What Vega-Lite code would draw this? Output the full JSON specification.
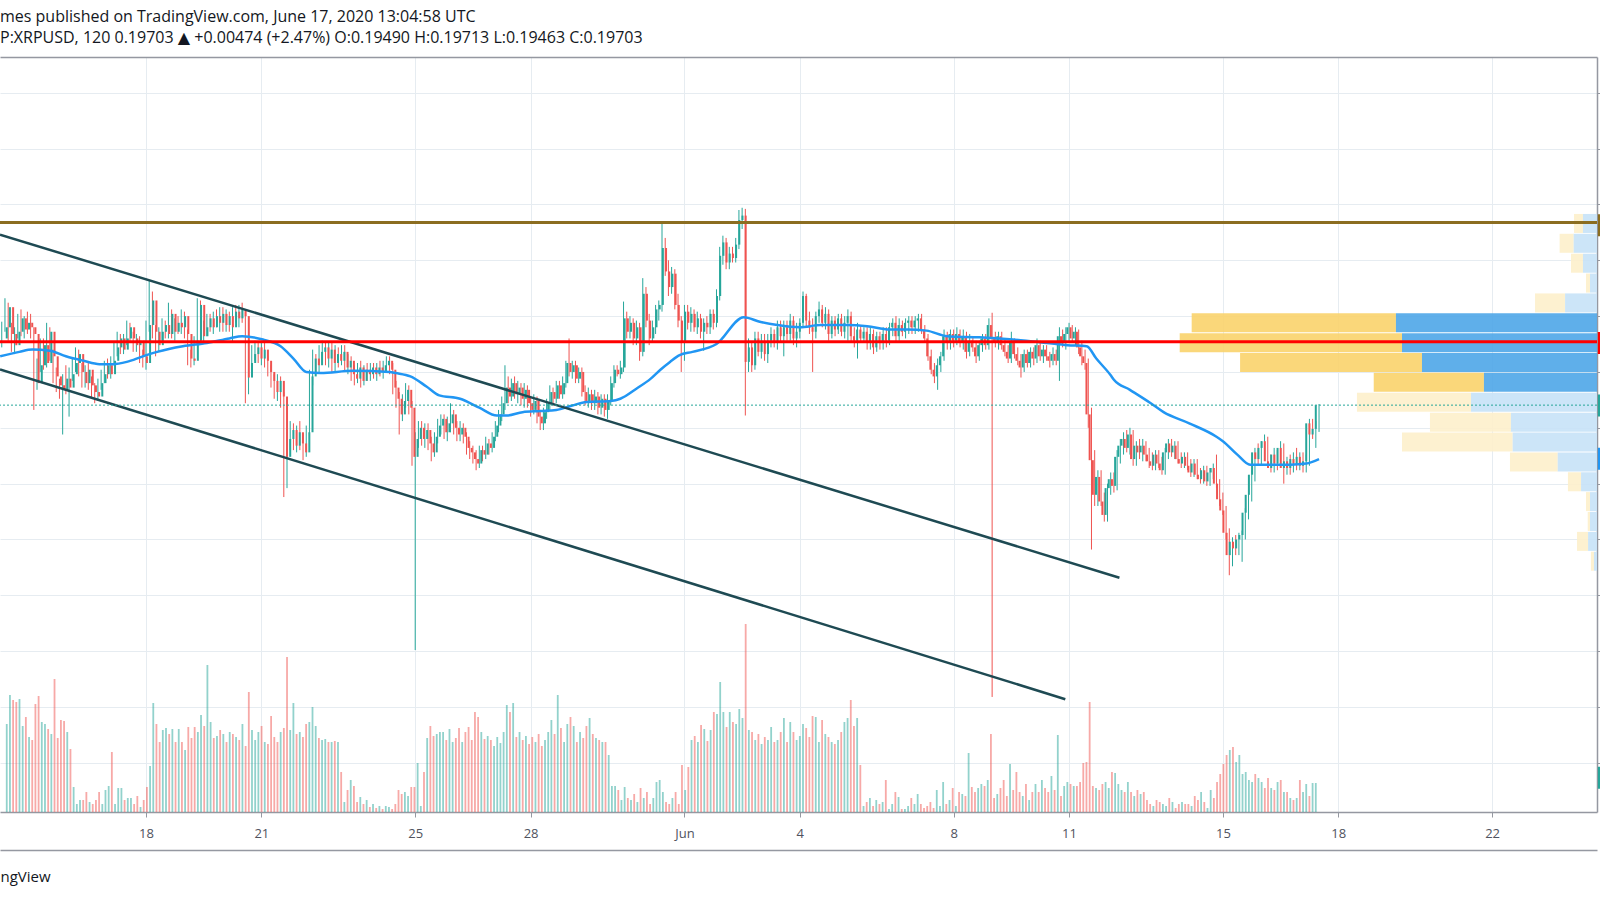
{
"$schema":"https://vega.github.io/schema/vega-lite/v6.json",
"width":1597,"height":755,
"autosize":{"type":"none"},
"padding":{"left":0,"top":57,"right":3,"bottom":88},
"background":"#ffffff",
"view":{"stroke":null},
"title":{"text":"mes published on TradingView.com, June 17, 2020 13:04:58 UTC","subtitle":"P:XRPUSD, 120  0.19703 ▲ +0.00474 (+2.47%)  O:0.19490  H:0.19713  L:0.19463  C:0.19703","anchor":"start","frame":"group","offset":11,"font":"Open Sans, DejaVu Sans","fontSize":16,"fontWeight":"normal","color":"#131722","subtitleFont":"Open Sans, DejaVu Sans","subtitleFontSize":16,"subtitleColor":"#131722","subtitlePadding":5},
"datasets":{
"candles":[
{"t":"2020-05-14T06:00Z","o":0.2030,"h":0.2045,"l":0.2022,"c":0.2040,"v":88},
{"t":"2020-05-14T08:00Z","o":0.2040,"h":0.2066,"l":0.2036,"c":0.2058,"v":117},
{"t":"2020-05-14T10:00Z","o":0.2058,"h":0.2062,"l":0.2028,"c":0.2034,"v":112},
{"t":"2020-05-14T12:00Z","o":0.2034,"h":0.2044,"l":0.2018,"c":0.2024,"v":110},
{"t":"2020-05-14T14:00Z","o":0.2024,"h":0.2040,"l":0.2016,"c":0.2036,"v":113},
{"t":"2020-05-14T16:00Z","o":0.2036,"h":0.2052,"l":0.2030,"c":0.2048,"v":86},
{"t":"2020-05-14T18:00Z","o":0.2048,"h":0.2056,"l":0.2032,"c":0.2038,"v":95},
{"t":"2020-05-14T20:00Z","o":0.2038,"h":0.2050,"l":0.2030,"c":0.2044,"v":75},
{"t":"2020-05-14T22:00Z","o":0.2044,"h":0.2054,"l":0.2034,"c":0.2040,"v":72},
{"t":"2020-05-15T00:00Z","o":0.2040,"h":0.2052,"l":0.2030,"c":0.2034,"v":108},
{"t":"2020-05-15T02:00Z","o":0.2034,"h":0.2040,"l":0.1966,"c":0.1990,"v":116},
{"t":"2020-05-15T04:00Z","o":0.1990,"h":0.2012,"l":0.1984,"c":0.2006,"v":90},
{"t":"2020-05-15T06:00Z","o":0.2006,"h":0.2030,"l":0.2000,"c":0.2024,"v":88},
{"t":"2020-05-15T08:00Z","o":0.2024,"h":0.2030,"l":0.2002,"c":0.2008,"v":83},
{"t":"2020-05-15T10:00Z","o":0.2008,"h":0.2044,"l":0.2004,"c":0.2036,"v":78},
{"t":"2020-05-15T12:00Z","o":0.2036,"h":0.2040,"l":0.2010,"c":0.2014,"v":133},
{"t":"2020-05-15T14:00Z","o":0.2014,"h":0.2020,"l":0.1990,"c":0.1996,"v":74},
{"t":"2020-05-15T16:00Z","o":0.1996,"h":0.2004,"l":0.1982,"c":0.1988,"v":92},
{"t":"2020-05-15T18:00Z","o":0.1988,"h":0.1994,"l":0.1976,"c":0.1984,"v":91},
{"t":"2020-05-15T20:00Z","o":0.1984,"h":0.1998,"l":0.1944,"c":0.1994,"v":80},
{"t":"2020-05-15T22:00Z","o":0.1994,"h":0.2006,"l":0.1980,"c":0.1986,"v":63},
{"t":"2020-05-16T00:00Z","o":0.1986,"h":0.2004,"l":0.1960,"c":0.1998,"v":25},
{"t":"2020-05-16T02:00Z","o":0.1998,"h":0.2012,"l":0.1992,"c":0.2008,"v":8},
{"t":"2020-05-16T04:00Z","o":0.2008,"h":0.2022,"l":0.2000,"c":0.2016,"v":12},
{"t":"2020-05-16T06:00Z","o":0.2016,"h":0.2020,"l":0.1996,"c":0.2000,"v":12},
{"t":"2020-05-16T08:00Z","o":0.2000,"h":0.2008,"l":0.1986,"c":0.1990,"v":20},
{"t":"2020-05-16T10:00Z","o":0.1990,"h":0.2006,"l":0.1986,"c":0.2002,"v":10},
{"t":"2020-05-16T12:00Z","o":0.2002,"h":0.2008,"l":0.1984,"c":0.1988,"v":8},
{"t":"2020-05-16T14:00Z","o":0.1988,"h":0.1996,"l":0.1976,"c":0.1982,"v":12},
{"t":"2020-05-16T16:00Z","o":0.1982,"h":0.1990,"l":0.1972,"c":0.1978,"v":20},
{"t":"2020-05-16T18:00Z","o":0.1978,"h":0.1994,"l":0.1974,"c":0.1990,"v":8},
{"t":"2020-05-16T20:00Z","o":0.1990,"h":0.2002,"l":0.1984,"c":0.1998,"v":22},
{"t":"2020-05-16T22:00Z","o":0.1998,"h":0.2010,"l":0.1990,"c":0.2006,"v":26},
{"t":"2020-05-17T00:00Z","o":0.2006,"h":0.2012,"l":0.1994,"c":0.1998,"v":60},
{"t":"2020-05-17T02:00Z","o":0.1998,"h":0.2014,"l":0.1994,"c":0.2010,"v":8},
{"t":"2020-05-17T04:00Z","o":0.2010,"h":0.2026,"l":0.2006,"c":0.2022,"v":24},
{"t":"2020-05-17T06:00Z","o":0.2022,"h":0.2036,"l":0.2014,"c":0.2030,"v":24},
{"t":"2020-05-17T08:00Z","o":0.2030,"h":0.2034,"l":0.2016,"c":0.2020,"v":12},
{"t":"2020-05-17T10:00Z","o":0.2020,"h":0.2034,"l":0.2016,"c":0.2030,"v":14},
{"t":"2020-05-17T12:00Z","o":0.2030,"h":0.2046,"l":0.2024,"c":0.2040,"v":14},
{"t":"2020-05-17T14:00Z","o":0.2040,"h":0.2044,"l":0.2026,"c":0.2030,"v":8},
{"t":"2020-05-17T16:00Z","o":0.2030,"h":0.2036,"l":0.2018,"c":0.2024,"v":16},
{"t":"2020-05-17T18:00Z","o":0.2024,"h":0.2034,"l":0.2018,"c":0.2028,"v":5},
{"t":"2020-05-17T20:00Z","o":0.2028,"h":0.2032,"l":0.2008,"c":0.2014,"v":12},
{"t":"2020-05-17T22:00Z","o":0.2014,"h":0.2020,"l":0.2004,"c":0.2008,"v":25},
{"t":"2020-05-18T00:00Z","o":0.2008,"h":0.2046,"l":0.2002,"c":0.2042,"v":46},
{"t":"2020-05-18T02:00Z","o":0.2042,"h":0.2082,"l":0.2036,"c":0.2064,"v":109},
{"t":"2020-05-18T04:00Z","o":0.2064,"h":0.2072,"l":0.2030,"c":0.2036,"v":88},
{"t":"2020-05-18T06:00Z","o":0.2036,"h":0.2042,"l":0.2014,"c":0.2024,"v":70},
{"t":"2020-05-18T08:00Z","o":0.2024,"h":0.2040,"l":0.2018,"c":0.2036,"v":82},
{"t":"2020-05-18T10:00Z","o":0.2036,"h":0.2048,"l":0.2028,"c":0.2042,"v":84},
{"t":"2020-05-18T12:00Z","o":0.2042,"h":0.2046,"l":0.2030,"c":0.2034,"v":78},
{"t":"2020-05-18T14:00Z","o":0.2034,"h":0.2062,"l":0.2030,"c":0.2052,"v":83},
{"t":"2020-05-18T16:00Z","o":0.2052,"h":0.2056,"l":0.2030,"c":0.2036,"v":70},
{"t":"2020-05-18T18:00Z","o":0.2036,"h":0.2048,"l":0.2028,"c":0.2044,"v":83},
{"t":"2020-05-18T20:00Z","o":0.2044,"h":0.2050,"l":0.2034,"c":0.2040,"v":70},
{"t":"2020-05-18T22:00Z","o":0.2040,"h":0.2056,"l":0.2034,"c":0.2050,"v":62},
{"t":"2020-05-19T00:00Z","o":0.2050,"h":0.2054,"l":0.2030,"c":0.2034,"v":85},
{"t":"2020-05-19T02:00Z","o":0.2034,"h":0.2038,"l":0.2006,"c":0.2012,"v":74},
{"t":"2020-05-19T04:00Z","o":0.2012,"h":0.2020,"l":0.2004,"c":0.2010,"v":85},
{"t":"2020-05-19T06:00Z","o":0.2010,"h":0.2032,"l":0.2006,"c":0.2028,"v":80},
{"t":"2020-05-19T08:00Z","o":0.2028,"h":0.2066,"l":0.2024,"c":0.2060,"v":97},
{"t":"2020-05-19T10:00Z","o":0.2060,"h":0.2064,"l":0.2026,"c":0.2032,"v":86},
{"t":"2020-05-19T12:00Z","o":0.2032,"h":0.2046,"l":0.2026,"c":0.2040,"v":147},
{"t":"2020-05-19T14:00Z","o":0.2040,"h":0.2052,"l":0.2032,"c":0.2048,"v":90},
{"t":"2020-05-19T16:00Z","o":0.2048,"h":0.2052,"l":0.2036,"c":0.2040,"v":74},
{"t":"2020-05-19T18:00Z","o":0.2040,"h":0.2054,"l":0.2034,"c":0.2050,"v":76},
{"t":"2020-05-19T20:00Z","o":0.2050,"h":0.2056,"l":0.2040,"c":0.2044,"v":82},
{"t":"2020-05-19T22:00Z","o":0.2044,"h":0.2058,"l":0.2036,"c":0.2052,"v":78},
{"t":"2020-05-20T00:00Z","o":0.2052,"h":0.2058,"l":0.2036,"c":0.2042,"v":70},
{"t":"2020-05-20T02:00Z","o":0.2042,"h":0.2056,"l":0.2036,"c":0.2050,"v":80},
{"t":"2020-05-20T04:00Z","o":0.2050,"h":0.2054,"l":0.2036,"c":0.2040,"v":78},
{"t":"2020-05-20T06:00Z","o":0.2040,"h":0.2058,"l":0.2026,"c":0.2054,"v":75},
{"t":"2020-05-20T08:00Z","o":0.2054,"h":0.2060,"l":0.2044,"c":0.2048,"v":72},
{"t":"2020-05-20T10:00Z","o":0.2048,"h":0.2060,"l":0.2040,"c":0.2056,"v":88},
{"t":"2020-05-20T12:00Z","o":0.2056,"h":0.2062,"l":0.2044,"c":0.2050,"v":66},
{"t":"2020-05-20T14:00Z","o":0.2050,"h":0.2054,"l":0.1972,"c":0.1995,"v":120},
{"t":"2020-05-20T16:00Z","o":0.1995,"h":0.2014,"l":0.1980,"c":0.2008,"v":82},
{"t":"2020-05-20T18:00Z","o":0.2008,"h":0.2024,"l":0.2002,"c":0.2016,"v":72},
{"t":"2020-05-20T20:00Z","o":0.2016,"h":0.2028,"l":0.2010,"c":0.2022,"v":80},
{"t":"2020-05-20T22:00Z","o":0.2022,"h":0.2026,"l":0.2008,"c":0.2012,"v":86},
{"t":"2020-05-21T00:00Z","o":0.2012,"h":0.2026,"l":0.2006,"c":0.2020,"v":70},
{"t":"2020-05-21T02:00Z","o":0.2020,"h":0.2026,"l":0.2004,"c":0.2010,"v":68},
{"t":"2020-05-21T04:00Z","o":0.2010,"h":0.2014,"l":0.1996,"c":0.2000,"v":96},
{"t":"2020-05-21T06:00Z","o":0.2000,"h":0.2006,"l":0.1986,"c":0.1992,"v":75},
{"t":"2020-05-21T08:00Z","o":0.1992,"h":0.1998,"l":0.1976,"c":0.1982,"v":70},
{"t":"2020-05-21T10:00Z","o":0.1982,"h":0.1998,"l":0.1974,"c":0.1992,"v":80},
{"t":"2020-05-21T12:00Z","o":0.1992,"h":0.1996,"l":0.1968,"c":0.1978,"v":84},
{"t":"2020-05-21T14:00Z","o":0.1978,"h":0.1982,"l":0.1888,"c":0.1924,"v":155},
{"t":"2020-05-21T16:00Z","o":0.1924,"h":0.1946,"l":0.1896,"c":0.1940,"v":82},
{"t":"2020-05-21T18:00Z","o":0.1940,"h":0.1956,"l":0.1930,"c":0.1948,"v":109},
{"t":"2020-05-21T20:00Z","o":0.1948,"h":0.1954,"l":0.1930,"c":0.1934,"v":78},
{"t":"2020-05-21T22:00Z","o":0.1934,"h":0.1952,"l":0.1928,"c":0.1946,"v":80},
{"t":"2020-05-22T00:00Z","o":0.1946,"h":0.1956,"l":0.1930,"c":0.1936,"v":75},
{"t":"2020-05-22T02:00Z","o":0.1936,"h":0.1944,"l":0.1921,"c":0.1928,"v":88},
{"t":"2020-05-22T04:00Z","o":0.1928,"h":0.1952,"l":0.1924,"c":0.1946,"v":90},
{"t":"2020-05-22T06:00Z","o":0.1946,"h":0.2002,"l":0.1940,"c":0.1996,"v":105},
{"t":"2020-05-22T08:00Z","o":0.1996,"h":0.2020,"l":0.1988,"c":0.2012,"v":86},
{"t":"2020-05-22T10:00Z","o":0.2012,"h":0.2016,"l":0.2000,"c":0.2006,"v":74},
{"t":"2020-05-22T12:00Z","o":0.2006,"h":0.2024,"l":0.2000,"c":0.2018,"v":72},
{"t":"2020-05-22T14:00Z","o":0.2018,"h":0.2028,"l":0.2008,"c":0.2022,"v":73},
{"t":"2020-05-22T16:00Z","o":0.2022,"h":0.2026,"l":0.2006,"c":0.2012,"v":70},
{"t":"2020-05-22T18:00Z","o":0.2012,"h":0.2026,"l":0.2004,"c":0.2020,"v":70},
{"t":"2020-05-22T20:00Z","o":0.2020,"h":0.2026,"l":0.2000,"c":0.2008,"v":71},
{"t":"2020-05-22T22:00Z","o":0.2008,"h":0.2024,"l":0.2000,"c":0.2016,"v":70},
{"t":"2020-05-23T00:00Z","o":0.2016,"h":0.2022,"l":0.2004,"c":0.2010,"v":40},
{"t":"2020-05-23T02:00Z","o":0.2010,"h":0.2024,"l":0.2006,"c":0.2018,"v":10},
{"t":"2020-05-23T04:00Z","o":0.2018,"h":0.2024,"l":0.2000,"c":0.2004,"v":22},
{"t":"2020-05-23T06:00Z","o":0.2004,"h":0.2016,"l":0.1998,"c":0.2010,"v":32},
{"t":"2020-05-23T08:00Z","o":0.2010,"h":0.2014,"l":0.1992,"c":0.1998,"v":26},
{"t":"2020-05-23T10:00Z","o":0.1998,"h":0.2006,"l":0.1988,"c":0.1994,"v":10},
{"t":"2020-05-23T12:00Z","o":0.1994,"h":0.2008,"l":0.1990,"c":0.2004,"v":15},
{"t":"2020-05-23T14:00Z","o":0.2004,"h":0.2010,"l":0.1986,"c":0.1992,"v":8},
{"t":"2020-05-23T16:00Z","o":0.1992,"h":0.2006,"l":0.1988,"c":0.2002,"v":12},
{"t":"2020-05-23T18:00Z","o":0.2002,"h":0.2008,"l":0.1992,"c":0.1998,"v":5},
{"t":"2020-05-23T20:00Z","o":0.1998,"h":0.2008,"l":0.1992,"c":0.2004,"v":8},
{"t":"2020-05-23T22:00Z","o":0.2004,"h":0.2008,"l":0.1994,"c":0.1998,"v":4},
{"t":"2020-05-24T00:00Z","o":0.1998,"h":0.2008,"l":0.1992,"c":0.2004,"v":6},
{"t":"2020-05-24T02:00Z","o":0.2004,"h":0.2010,"l":0.1996,"c":0.2000,"v":3},
{"t":"2020-05-24T04:00Z","o":0.2000,"h":0.2010,"l":0.1994,"c":0.2006,"v":6},
{"t":"2020-05-24T06:00Z","o":0.2006,"h":0.2014,"l":0.2000,"c":0.2010,"v":5},
{"t":"2020-05-24T08:00Z","o":0.2010,"h":0.2014,"l":0.1998,"c":0.2002,"v":3},
{"t":"2020-05-24T10:00Z","o":0.2002,"h":0.2008,"l":0.1980,"c":0.1986,"v":8},
{"t":"2020-05-24T12:00Z","o":0.1986,"h":0.1992,"l":0.1968,"c":0.1976,"v":22},
{"t":"2020-05-24T14:00Z","o":0.1976,"h":0.1982,"l":0.1944,"c":0.1962,"v":18},
{"t":"2020-05-24T16:00Z","o":0.1962,"h":0.1980,"l":0.1956,"c":0.1974,"v":20},
{"t":"2020-05-24T18:00Z","o":0.1974,"h":0.1990,"l":0.1968,"c":0.1984,"v":16},
{"t":"2020-05-24T20:00Z","o":0.1984,"h":0.1988,"l":0.1962,"c":0.1968,"v":25},
{"t":"2020-05-24T22:00Z","o":0.1968,"h":0.1974,"l":0.1916,"c":0.1924,"v":25},
{"t":"2020-05-25T00:00Z","o":0.1924,"h":0.1946,"l":0.1751,"c":0.1940,"v":49},
{"t":"2020-05-25T02:00Z","o":0.1940,"h":0.1956,"l":0.1932,"c":0.1950,"v":6},
{"t":"2020-05-25T04:00Z","o":0.1950,"h":0.1956,"l":0.1934,"c":0.1940,"v":40},
{"t":"2020-05-25T06:00Z","o":0.1940,"h":0.1954,"l":0.1932,"c":0.1948,"v":74},
{"t":"2020-05-25T08:00Z","o":0.1948,"h":0.1954,"l":0.1930,"c":0.1936,"v":86},
{"t":"2020-05-25T10:00Z","o":0.1936,"h":0.1942,"l":0.1920,"c":0.1928,"v":76},
{"t":"2020-05-25T12:00Z","o":0.1928,"h":0.1946,"l":0.1924,"c":0.1942,"v":78},
{"t":"2020-05-25T14:00Z","o":0.1942,"h":0.1958,"l":0.1936,"c":0.1952,"v":80},
{"t":"2020-05-25T16:00Z","o":0.1952,"h":0.1962,"l":0.1944,"c":0.1958,"v":80},
{"t":"2020-05-25T18:00Z","o":0.1958,"h":0.1962,"l":0.1940,"c":0.1946,"v":72},
{"t":"2020-05-25T20:00Z","o":0.1946,"h":0.1960,"l":0.1938,"c":0.1954,"v":83},
{"t":"2020-05-25T22:00Z","o":0.1954,"h":0.1972,"l":0.1946,"c":0.1962,"v":70},
{"t":"2020-05-26T00:00Z","o":0.1962,"h":0.1966,"l":0.1944,"c":0.1950,"v":74},
{"t":"2020-05-26T02:00Z","o":0.1950,"h":0.1956,"l":0.1938,"c":0.1944,"v":84},
{"t":"2020-05-26T04:00Z","o":0.1944,"h":0.1956,"l":0.1938,"c":0.1950,"v":70},
{"t":"2020-05-26T06:00Z","o":0.1950,"h":0.1954,"l":0.1936,"c":0.1942,"v":80},
{"t":"2020-05-26T08:00Z","o":0.1942,"h":0.1946,"l":0.1926,"c":0.1932,"v":85},
{"t":"2020-05-26T10:00Z","o":0.1932,"h":0.1938,"l":0.1922,"c":0.1928,"v":72},
{"t":"2020-05-26T12:00Z","o":0.1928,"h":0.1934,"l":0.1918,"c":0.1922,"v":100},
{"t":"2020-05-26T14:00Z","o":0.1922,"h":0.1930,"l":0.1912,"c":0.1918,"v":95},
{"t":"2020-05-26T16:00Z","o":0.1918,"h":0.1934,"l":0.1914,"c":0.1930,"v":80},
{"t":"2020-05-26T18:00Z","o":0.1930,"h":0.1934,"l":0.1920,"c":0.1926,"v":73},
{"t":"2020-05-26T20:00Z","o":0.1926,"h":0.1942,"l":0.1922,"c":0.1936,"v":76},
{"t":"2020-05-26T22:00Z","o":0.1936,"h":0.1940,"l":0.1926,"c":0.1932,"v":72},
{"t":"2020-05-27T00:00Z","o":0.1932,"h":0.1946,"l":0.1928,"c":0.1942,"v":66},
{"t":"2020-05-27T02:00Z","o":0.1942,"h":0.1956,"l":0.1938,"c":0.1952,"v":75},
{"t":"2020-05-27T04:00Z","o":0.1952,"h":0.1966,"l":0.1946,"c":0.1962,"v":69},
{"t":"2020-05-27T06:00Z","o":0.1962,"h":0.1978,"l":0.1956,"c":0.1972,"v":80},
{"t":"2020-05-27T08:00Z","o":0.1972,"h":0.2006,"l":0.1966,"c":0.1986,"v":107},
{"t":"2020-05-27T10:00Z","o":0.1986,"h":0.1996,"l":0.1972,"c":0.1978,"v":100},
{"t":"2020-05-27T12:00Z","o":0.1978,"h":0.1994,"l":0.1974,"c":0.1990,"v":109},
{"t":"2020-05-27T14:00Z","o":0.1990,"h":0.1996,"l":0.1976,"c":0.1980,"v":75},
{"t":"2020-05-27T16:00Z","o":0.1980,"h":0.1992,"l":0.1972,"c":0.1986,"v":80},
{"t":"2020-05-27T18:00Z","o":0.1986,"h":0.1990,"l":0.1970,"c":0.1976,"v":72},
{"t":"2020-05-27T20:00Z","o":0.1976,"h":0.1990,"l":0.1968,"c":0.1984,"v":76},
{"t":"2020-05-27T22:00Z","o":0.1984,"h":0.1988,"l":0.1968,"c":0.1972,"v":68},
{"t":"2020-05-28T00:00Z","o":0.1972,"h":0.1978,"l":0.1960,"c":0.1966,"v":75},
{"t":"2020-05-28T02:00Z","o":0.1966,"h":0.1980,"l":0.1962,"c":0.1974,"v":70},
{"t":"2020-05-28T04:00Z","o":0.1974,"h":0.1978,"l":0.1954,"c":0.1960,"v":78},
{"t":"2020-05-28T06:00Z","o":0.1960,"h":0.1966,"l":0.1948,"c":0.1954,"v":66},
{"t":"2020-05-28T08:00Z","o":0.1954,"h":0.1968,"l":0.1948,"c":0.1964,"v":72},
{"t":"2020-05-28T10:00Z","o":0.1964,"h":0.1976,"l":0.1958,"c":0.1972,"v":80},
{"t":"2020-05-28T12:00Z","o":0.1972,"h":0.1988,"l":0.1966,"c":0.1982,"v":92},
{"t":"2020-05-28T14:00Z","o":0.1982,"h":0.1986,"l":0.1970,"c":0.1976,"v":78},
{"t":"2020-05-28T16:00Z","o":0.1976,"h":0.1992,"l":0.1972,"c":0.1988,"v":117},
{"t":"2020-05-28T18:00Z","o":0.1988,"h":0.1992,"l":0.1976,"c":0.1980,"v":84},
{"t":"2020-05-28T20:00Z","o":0.1980,"h":0.1996,"l":0.1976,"c":0.1990,"v":70},
{"t":"2020-05-28T22:00Z","o":0.1990,"h":0.2010,"l":0.1986,"c":0.2008,"v":88},
{"t":"2020-05-29T00:00Z","o":0.2008,"h":0.2030,"l":0.1996,"c":0.2000,"v":95},
{"t":"2020-05-29T02:00Z","o":0.2000,"h":0.2010,"l":0.1994,"c":0.2006,"v":86},
{"t":"2020-05-29T04:00Z","o":0.2006,"h":0.2010,"l":0.1990,"c":0.1994,"v":70},
{"t":"2020-05-29T06:00Z","o":0.1994,"h":0.2004,"l":0.1990,"c":0.2000,"v":80},
{"t":"2020-05-29T08:00Z","o":0.2000,"h":0.2004,"l":0.1978,"c":0.1982,"v":74},
{"t":"2020-05-29T10:00Z","o":0.1982,"h":0.1988,"l":0.1970,"c":0.1974,"v":86},
{"t":"2020-05-29T12:00Z","o":0.1974,"h":0.1986,"l":0.1968,"c":0.1980,"v":94},
{"t":"2020-05-29T14:00Z","o":0.1980,"h":0.1984,"l":0.1966,"c":0.1972,"v":78},
{"t":"2020-05-29T16:00Z","o":0.1972,"h":0.1984,"l":0.1966,"c":0.1978,"v":74},
{"t":"2020-05-29T18:00Z","o":0.1978,"h":0.1982,"l":0.1962,"c":0.1968,"v":72},
{"t":"2020-05-29T20:00Z","o":0.1968,"h":0.1980,"l":0.1962,"c":0.1976,"v":70},
{"t":"2020-05-29T22:00Z","o":0.1976,"h":0.1980,"l":0.1960,"c":0.1966,"v":70},
{"t":"2020-05-30T00:00Z","o":0.1966,"h":0.1980,"l":0.1958,"c":0.1974,"v":57},
{"t":"2020-05-30T02:00Z","o":0.1974,"h":0.1996,"l":0.1970,"c":0.1990,"v":26},
{"t":"2020-05-30T04:00Z","o":0.1990,"h":0.2006,"l":0.1986,"c":0.2002,"v":26},
{"t":"2020-05-30T06:00Z","o":0.2002,"h":0.2006,"l":0.1996,"c":0.1998,"v":22},
{"t":"2020-05-30T08:00Z","o":0.1998,"h":0.2010,"l":0.1994,"c":0.2004,"v":12},
{"t":"2020-05-30T10:00Z","o":0.2004,"h":0.2063,"l":0.2000,"c":0.2048,"v":25},
{"t":"2020-05-30T12:00Z","o":0.2048,"h":0.2054,"l":0.2030,"c":0.2036,"v":14},
{"t":"2020-05-30T14:00Z","o":0.2036,"h":0.2050,"l":0.2030,"c":0.2044,"v":12},
{"t":"2020-05-30T16:00Z","o":0.2044,"h":0.2048,"l":0.2024,"c":0.2030,"v":18},
{"t":"2020-05-30T18:00Z","o":0.2030,"h":0.2046,"l":0.2024,"c":0.2040,"v":10},
{"t":"2020-05-30T20:00Z","o":0.2040,"h":0.2044,"l":0.2010,"c":0.2018,"v":24},
{"t":"2020-05-30T22:00Z","o":0.2018,"h":0.2084,"l":0.2014,"c":0.2070,"v":14},
{"t":"2020-05-31T00:00Z","o":0.2070,"h":0.2076,"l":0.2040,"c":0.2046,"v":20},
{"t":"2020-05-31T02:00Z","o":0.2046,"h":0.2052,"l":0.2024,"c":0.2030,"v":8},
{"t":"2020-05-31T04:00Z","o":0.2030,"h":0.2046,"l":0.2026,"c":0.2040,"v":14},
{"t":"2020-05-31T06:00Z","o":0.2040,"h":0.2060,"l":0.2034,"c":0.2056,"v":30},
{"t":"2020-05-31T08:00Z","o":0.2056,"h":0.2064,"l":0.2046,"c":0.2060,"v":32},
{"t":"2020-05-31T10:00Z","o":0.2060,"h":0.2133,"l":0.2054,"c":0.2111,"v":20},
{"t":"2020-05-31T12:00Z","o":0.2111,"h":0.2120,"l":0.2086,"c":0.2090,"v":10},
{"t":"2020-05-31T14:00Z","o":0.2090,"h":0.2100,"l":0.2068,"c":0.2076,"v":8},
{"t":"2020-05-31T16:00Z","o":0.2076,"h":0.2094,"l":0.2070,"c":0.2088,"v":14},
{"t":"2020-05-31T18:00Z","o":0.2088,"h":0.2092,"l":0.2056,"c":0.2060,"v":20},
{"t":"2020-05-31T20:00Z","o":0.2060,"h":0.2070,"l":0.2040,"c":0.2046,"v":8},
{"t":"2020-05-31T22:00Z","o":0.2046,"h":0.2050,"l":0.2000,"c":0.2026,"v":47},
{"t":"2020-06-01T00:00Z","o":0.2026,"h":0.2060,"l":0.2010,"c":0.2054,"v":22},
{"t":"2020-06-01T02:00Z","o":0.2054,"h":0.2060,"l":0.2038,"c":0.2044,"v":45},
{"t":"2020-06-01T04:00Z","o":0.2044,"h":0.2058,"l":0.2036,"c":0.2052,"v":72},
{"t":"2020-06-01T06:00Z","o":0.2052,"h":0.2056,"l":0.2036,"c":0.2040,"v":76},
{"t":"2020-06-01T08:00Z","o":0.2040,"h":0.2054,"l":0.2034,"c":0.2048,"v":70},
{"t":"2020-06-01T10:00Z","o":0.2048,"h":0.2052,"l":0.2030,"c":0.2036,"v":87},
{"t":"2020-06-01T12:00Z","o":0.2036,"h":0.2048,"l":0.2019,"c":0.2044,"v":83},
{"t":"2020-06-01T14:00Z","o":0.2044,"h":0.2050,"l":0.2034,"c":0.2040,"v":71},
{"t":"2020-06-01T16:00Z","o":0.2040,"h":0.2056,"l":0.2034,"c":0.2052,"v":82},
{"t":"2020-06-01T18:00Z","o":0.2052,"h":0.2056,"l":0.2038,"c":0.2044,"v":100},
{"t":"2020-06-01T20:00Z","o":0.2044,"h":0.2074,"l":0.2040,"c":0.2068,"v":98},
{"t":"2020-06-01T22:00Z","o":0.2068,"h":0.2112,"l":0.2064,"c":0.2104,"v":130},
{"t":"2020-06-02T00:00Z","o":0.2104,"h":0.2122,"l":0.2096,"c":0.2116,"v":100},
{"t":"2020-06-02T02:00Z","o":0.2116,"h":0.2120,"l":0.2092,"c":0.2098,"v":85},
{"t":"2020-06-02T04:00Z","o":0.2098,"h":0.2112,"l":0.2092,"c":0.2106,"v":100},
{"t":"2020-06-02T06:00Z","o":0.2106,"h":0.2112,"l":0.2098,"c":0.2102,"v":90},
{"t":"2020-06-02T08:00Z","o":0.2102,"h":0.2120,"l":0.2098,"c":0.2114,"v":88},
{"t":"2020-06-02T10:00Z","o":0.2114,"h":0.2145,"l":0.2110,"c":0.2136,"v":103},
{"t":"2020-06-02T12:00Z","o":0.2136,"h":0.2147,"l":0.2128,"c":0.2140,"v":94},
{"t":"2020-06-02T14:00Z","o":0.2140,"h":0.2146,"l":0.1961,"c":0.2009,"v":188},
{"t":"2020-06-02T16:00Z","o":0.2009,"h":0.2030,"l":0.2000,"c":0.2022,"v":82},
{"t":"2020-06-02T18:00Z","o":0.2022,"h":0.2026,"l":0.2000,"c":0.2006,"v":80},
{"t":"2020-06-02T20:00Z","o":0.2006,"h":0.2036,"l":0.2002,"c":0.2030,"v":72},
{"t":"2020-06-02T22:00Z","o":0.2030,"h":0.2036,"l":0.2014,"c":0.2018,"v":78},
{"t":"2020-06-03T00:00Z","o":0.2018,"h":0.2034,"l":0.2012,"c":0.2028,"v":68},
{"t":"2020-06-03T02:00Z","o":0.2028,"h":0.2034,"l":0.2010,"c":0.2016,"v":75},
{"t":"2020-06-03T04:00Z","o":0.2016,"h":0.2034,"l":0.2008,"c":0.2028,"v":72},
{"t":"2020-06-03T06:00Z","o":0.2028,"h":0.2040,"l":0.2022,"c":0.2034,"v":85},
{"t":"2020-06-03T08:00Z","o":0.2034,"h":0.2038,"l":0.2022,"c":0.2026,"v":70},
{"t":"2020-06-03T10:00Z","o":0.2026,"h":0.2046,"l":0.2020,"c":0.2040,"v":72},
{"t":"2020-06-03T12:00Z","o":0.2040,"h":0.2046,"l":0.2026,"c":0.2032,"v":80},
{"t":"2020-06-03T14:00Z","o":0.2032,"h":0.2046,"l":0.2014,"c":0.2040,"v":94},
{"t":"2020-06-03T16:00Z","o":0.2040,"h":0.2046,"l":0.2028,"c":0.2034,"v":70},
{"t":"2020-06-03T18:00Z","o":0.2034,"h":0.2052,"l":0.2028,"c":0.2046,"v":90},
{"t":"2020-06-03T20:00Z","o":0.2046,"h":0.2050,"l":0.2024,"c":0.2030,"v":80},
{"t":"2020-06-03T22:00Z","o":0.2030,"h":0.2044,"l":0.2022,"c":0.2036,"v":72},
{"t":"2020-06-04T00:00Z","o":0.2036,"h":0.2048,"l":0.2030,"c":0.2044,"v":76},
{"t":"2020-06-04T02:00Z","o":0.2044,"h":0.2072,"l":0.2040,"c":0.2068,"v":88},
{"t":"2020-06-04T04:00Z","o":0.2068,"h":0.2070,"l":0.2040,"c":0.2046,"v":84},
{"t":"2020-06-04T06:00Z","o":0.2046,"h":0.2054,"l":0.2034,"c":0.2040,"v":75},
{"t":"2020-06-04T08:00Z","o":0.2040,"h":0.2048,"l":0.2000,"c":0.2036,"v":96},
{"t":"2020-06-04T10:00Z","o":0.2036,"h":0.2054,"l":0.2030,"c":0.2050,"v":95},
{"t":"2020-06-04T12:00Z","o":0.2050,"h":0.2063,"l":0.2044,"c":0.2056,"v":70},
{"t":"2020-06-04T14:00Z","o":0.2056,"h":0.2060,"l":0.2040,"c":0.2044,"v":92},
{"t":"2020-06-04T16:00Z","o":0.2044,"h":0.2058,"l":0.2038,"c":0.2052,"v":78},
{"t":"2020-06-04T18:00Z","o":0.2052,"h":0.2056,"l":0.2028,"c":0.2034,"v":75},
{"t":"2020-06-04T20:00Z","o":0.2034,"h":0.2050,"l":0.2030,"c":0.2046,"v":70},
{"t":"2020-06-04T22:00Z","o":0.2046,"h":0.2050,"l":0.2032,"c":0.2038,"v":68},
{"t":"2020-06-05T00:00Z","o":0.2038,"h":0.2052,"l":0.2034,"c":0.2048,"v":72},
{"t":"2020-06-05T02:00Z","o":0.2048,"h":0.2052,"l":0.2032,"c":0.2036,"v":80},
{"t":"2020-06-05T04:00Z","o":0.2036,"h":0.2050,"l":0.2030,"c":0.2044,"v":90},
{"t":"2020-06-05T06:00Z","o":0.2044,"h":0.2056,"l":0.2028,"c":0.2050,"v":94},
{"t":"2020-06-05T08:00Z","o":0.2050,"h":0.2054,"l":0.2026,"c":0.2032,"v":112},
{"t":"2020-06-05T10:00Z","o":0.2032,"h":0.2040,"l":0.2022,"c":0.2028,"v":86},
{"t":"2020-06-05T12:00Z","o":0.2028,"h":0.2044,"l":0.2012,"c":0.2038,"v":94},
{"t":"2020-06-05T14:00Z","o":0.2038,"h":0.2042,"l":0.2026,"c":0.2030,"v":47},
{"t":"2020-06-05T16:00Z","o":0.2030,"h":0.2040,"l":0.2026,"c":0.2036,"v":6},
{"t":"2020-06-05T18:00Z","o":0.2036,"h":0.2040,"l":0.2020,"c":0.2026,"v":10},
{"t":"2020-06-05T20:00Z","o":0.2026,"h":0.2040,"l":0.2020,"c":0.2034,"v":14},
{"t":"2020-06-05T22:00Z","o":0.2034,"h":0.2038,"l":0.2016,"c":0.2022,"v":6},
{"t":"2020-06-06T00:00Z","o":0.2022,"h":0.2036,"l":0.2018,"c":0.2032,"v":12},
{"t":"2020-06-06T02:00Z","o":0.2032,"h":0.2036,"l":0.2020,"c":0.2026,"v":8},
{"t":"2020-06-06T04:00Z","o":0.2026,"h":0.2040,"l":0.2020,"c":0.2034,"v":10},
{"t":"2020-06-06T06:00Z","o":0.2034,"h":0.2040,"l":0.2022,"c":0.2028,"v":32},
{"t":"2020-06-06T08:00Z","o":0.2028,"h":0.2044,"l":0.2024,"c":0.2040,"v":3},
{"t":"2020-06-06T10:00Z","o":0.2040,"h":0.2048,"l":0.2032,"c":0.2044,"v":8},
{"t":"2020-06-06T12:00Z","o":0.2044,"h":0.2050,"l":0.2026,"c":0.2032,"v":20},
{"t":"2020-06-06T14:00Z","o":0.2032,"h":0.2048,"l":0.2028,"c":0.2042,"v":15},
{"t":"2020-06-06T16:00Z","o":0.2042,"h":0.2046,"l":0.2032,"c":0.2036,"v":3},
{"t":"2020-06-06T18:00Z","o":0.2036,"h":0.2048,"l":0.2030,"c":0.2044,"v":3},
{"t":"2020-06-06T20:00Z","o":0.2044,"h":0.2050,"l":0.2034,"c":0.2046,"v":6},
{"t":"2020-06-06T22:00Z","o":0.2046,"h":0.2050,"l":0.2034,"c":0.2040,"v":14},
{"t":"2020-06-07T00:00Z","o":0.2040,"h":0.2050,"l":0.2034,"c":0.2046,"v":8},
{"t":"2020-06-07T02:00Z","o":0.2046,"h":0.2052,"l":0.2036,"c":0.2048,"v":18},
{"t":"2020-06-07T04:00Z","o":0.2048,"h":0.2052,"l":0.2034,"c":0.2038,"v":8},
{"t":"2020-06-07T06:00Z","o":0.2038,"h":0.2042,"l":0.2026,"c":0.2030,"v":4},
{"t":"2020-06-07T08:00Z","o":0.2030,"h":0.2034,"l":0.2010,"c":0.2014,"v":6},
{"t":"2020-06-07T10:00Z","o":0.2014,"h":0.2020,"l":0.1998,"c":0.2002,"v":10},
{"t":"2020-06-07T12:00Z","o":0.2002,"h":0.2008,"l":0.1990,"c":0.1996,"v":4},
{"t":"2020-06-07T14:00Z","o":0.1996,"h":0.2012,"l":0.1984,"c":0.2006,"v":22},
{"t":"2020-06-07T16:00Z","o":0.2006,"h":0.2018,"l":0.2000,"c":0.2014,"v":6},
{"t":"2020-06-07T18:00Z","o":0.2014,"h":0.2038,"l":0.2010,"c":0.2032,"v":30},
{"t":"2020-06-07T20:00Z","o":0.2032,"h":0.2036,"l":0.2020,"c":0.2026,"v":8},
{"t":"2020-06-07T22:00Z","o":0.2026,"h":0.2038,"l":0.2020,"c":0.2034,"v":12},
{"t":"2020-06-08T00:00Z","o":0.2034,"h":0.2038,"l":0.2022,"c":0.2028,"v":24},
{"t":"2020-06-08T02:00Z","o":0.2028,"h":0.2040,"l":0.2024,"c":0.2034,"v":6},
{"t":"2020-06-08T04:00Z","o":0.2034,"h":0.2038,"l":0.2022,"c":0.2026,"v":20},
{"t":"2020-06-08T06:00Z","o":0.2026,"h":0.2038,"l":0.2020,"c":0.2032,"v":18},
{"t":"2020-06-08T08:00Z","o":0.2032,"h":0.2036,"l":0.2012,"c":0.2018,"v":16},
{"t":"2020-06-08T10:00Z","o":0.2018,"h":0.2034,"l":0.2014,"c":0.2028,"v":59},
{"t":"2020-06-08T12:00Z","o":0.2028,"h":0.2032,"l":0.2018,"c":0.2022,"v":25},
{"t":"2020-06-08T14:00Z","o":0.2022,"h":0.2028,"l":0.2008,"c":0.2014,"v":20},
{"t":"2020-06-08T16:00Z","o":0.2014,"h":0.2028,"l":0.2010,"c":0.2024,"v":24},
{"t":"2020-06-08T18:00Z","o":0.2024,"h":0.2034,"l":0.2018,"c":0.2030,"v":28},
{"t":"2020-06-08T20:00Z","o":0.2030,"h":0.2034,"l":0.2020,"c":0.2024,"v":26},
{"t":"2020-06-08T22:00Z","o":0.2024,"h":0.2048,"l":0.2020,"c":0.2042,"v":32},
{"t":"2020-06-09T00:00Z","o":0.2042,"h":0.2053,"l":0.1709,"c":0.2030,"v":78},
{"t":"2020-06-09T02:00Z","o":0.2030,"h":0.2036,"l":0.2022,"c":0.2026,"v":14},
{"t":"2020-06-09T04:00Z","o":0.2026,"h":0.2036,"l":0.2020,"c":0.2032,"v":18},
{"t":"2020-06-09T06:00Z","o":0.2032,"h":0.2036,"l":0.2020,"c":0.2024,"v":24},
{"t":"2020-06-09T08:00Z","o":0.2024,"h":0.2030,"l":0.2014,"c":0.2018,"v":32},
{"t":"2020-06-09T10:00Z","o":0.2018,"h":0.2024,"l":0.2008,"c":0.2012,"v":16},
{"t":"2020-06-09T12:00Z","o":0.2012,"h":0.2036,"l":0.2008,"c":0.2026,"v":48},
{"t":"2020-06-09T14:00Z","o":0.2026,"h":0.2030,"l":0.2012,"c":0.2016,"v":22},
{"t":"2020-06-09T16:00Z","o":0.2016,"h":0.2022,"l":0.2006,"c":0.2010,"v":40},
{"t":"2020-06-09T18:00Z","o":0.2010,"h":0.2016,"l":0.1995,"c":0.2004,"v":20},
{"t":"2020-06-09T20:00Z","o":0.2004,"h":0.2020,"l":0.2000,"c":0.2016,"v":16},
{"t":"2020-06-09T22:00Z","o":0.2016,"h":0.2020,"l":0.2004,"c":0.2008,"v":28},
{"t":"2020-06-10T00:00Z","o":0.2008,"h":0.2022,"l":0.2004,"c":0.2018,"v":12},
{"t":"2020-06-10T02:00Z","o":0.2018,"h":0.2022,"l":0.2006,"c":0.2012,"v":20},
{"t":"2020-06-10T04:00Z","o":0.2012,"h":0.2030,"l":0.2008,"c":0.2024,"v":28},
{"t":"2020-06-10T06:00Z","o":0.2024,"h":0.2028,"l":0.2010,"c":0.2014,"v":20},
{"t":"2020-06-10T08:00Z","o":0.2014,"h":0.2024,"l":0.2008,"c":0.2020,"v":32},
{"t":"2020-06-10T10:00Z","o":0.2020,"h":0.2024,"l":0.2010,"c":0.2014,"v":24},
{"t":"2020-06-10T12:00Z","o":0.2014,"h":0.2018,"l":0.2004,"c":0.2010,"v":20},
{"t":"2020-06-10T14:00Z","o":0.2010,"h":0.2022,"l":0.2006,"c":0.2016,"v":36},
{"t":"2020-06-10T16:00Z","o":0.2016,"h":0.2020,"l":0.2006,"c":0.2010,"v":22},
{"t":"2020-06-10T18:00Z","o":0.2010,"h":0.2040,"l":0.1992,"c":0.2032,"v":77},
{"t":"2020-06-10T20:00Z","o":0.2032,"h":0.2038,"l":0.2022,"c":0.2026,"v":16},
{"t":"2020-06-10T22:00Z","o":0.2026,"h":0.2040,"l":0.2020,"c":0.2034,"v":26},
{"t":"2020-06-11T00:00Z","o":0.2034,"h":0.2044,"l":0.2026,"c":0.2040,"v":30},
{"t":"2020-06-11T02:00Z","o":0.2040,"h":0.2042,"l":0.2026,"c":0.2030,"v":28},
{"t":"2020-06-11T04:00Z","o":0.2030,"h":0.2040,"l":0.2024,"c":0.2036,"v":26},
{"t":"2020-06-11T06:00Z","o":0.2036,"h":0.2038,"l":0.2016,"c":0.2022,"v":26},
{"t":"2020-06-11T08:00Z","o":0.2022,"h":0.2028,"l":0.2006,"c":0.2014,"v":30},
{"t":"2020-06-11T10:00Z","o":0.2014,"h":0.2020,"l":0.2002,"c":0.2008,"v":49},
{"t":"2020-06-11T12:00Z","o":0.2008,"h":0.2012,"l":0.1950,"c":0.1962,"v":50},
{"t":"2020-06-11T14:00Z","o":0.1962,"h":0.1968,"l":0.1841,"c":0.1921,"v":110},
{"t":"2020-06-11T16:00Z","o":0.1921,"h":0.1930,"l":0.1880,"c":0.1890,"v":26},
{"t":"2020-06-11T18:00Z","o":0.1890,"h":0.1912,"l":0.1880,"c":0.1906,"v":24},
{"t":"2020-06-11T20:00Z","o":0.1906,"h":0.1912,"l":0.1880,"c":0.1884,"v":22},
{"t":"2020-06-11T22:00Z","o":0.1884,"h":0.1892,"l":0.1866,"c":0.1872,"v":28},
{"t":"2020-06-12T00:00Z","o":0.1872,"h":0.1900,"l":0.1866,"c":0.1896,"v":30},
{"t":"2020-06-12T02:00Z","o":0.1896,"h":0.1910,"l":0.1890,"c":0.1904,"v":24},
{"t":"2020-06-12T04:00Z","o":0.1904,"h":0.1910,"l":0.1892,"c":0.1898,"v":40},
{"t":"2020-06-12T06:00Z","o":0.1898,"h":0.1930,"l":0.1894,"c":0.1924,"v":39},
{"t":"2020-06-12T08:00Z","o":0.1924,"h":0.1940,"l":0.1918,"c":0.1934,"v":28},
{"t":"2020-06-12T10:00Z","o":0.1934,"h":0.1946,"l":0.1926,"c":0.1940,"v":22},
{"t":"2020-06-12T12:00Z","o":0.1940,"h":0.1948,"l":0.1928,"c":0.1932,"v":20},
{"t":"2020-06-12T14:00Z","o":0.1932,"h":0.1950,"l":0.1926,"c":0.1944,"v":30},
{"t":"2020-06-12T16:00Z","o":0.1944,"h":0.1948,"l":0.1916,"c":0.1922,"v":20},
{"t":"2020-06-12T18:00Z","o":0.1922,"h":0.1938,"l":0.1916,"c":0.1934,"v":16},
{"t":"2020-06-12T20:00Z","o":0.1934,"h":0.1940,"l":0.1922,"c":0.1928,"v":22},
{"t":"2020-06-12T22:00Z","o":0.1928,"h":0.1940,"l":0.1920,"c":0.1934,"v":18},
{"t":"2020-06-13T00:00Z","o":0.1934,"h":0.1938,"l":0.1920,"c":0.1926,"v":20},
{"t":"2020-06-13T02:00Z","o":0.1926,"h":0.1932,"l":0.1914,"c":0.1920,"v":12},
{"t":"2020-06-13T04:00Z","o":0.1920,"h":0.1928,"l":0.1912,"c":0.1916,"v":8},
{"t":"2020-06-13T06:00Z","o":0.1916,"h":0.1930,"l":0.1912,"c":0.1926,"v":6},
{"t":"2020-06-13T08:00Z","o":0.1926,"h":0.1930,"l":0.1914,"c":0.1918,"v":12},
{"t":"2020-06-13T10:00Z","o":0.1918,"h":0.1924,"l":0.1908,"c":0.1912,"v":10},
{"t":"2020-06-13T12:00Z","o":0.1912,"h":0.1932,"l":0.1908,"c":0.1928,"v":8},
{"t":"2020-06-13T14:00Z","o":0.1928,"h":0.1940,"l":0.1922,"c":0.1936,"v":6},
{"t":"2020-06-13T16:00Z","o":0.1936,"h":0.1940,"l":0.1924,"c":0.1928,"v":14},
{"t":"2020-06-13T18:00Z","o":0.1928,"h":0.1938,"l":0.1922,"c":0.1934,"v":10},
{"t":"2020-06-13T20:00Z","o":0.1934,"h":0.1938,"l":0.1918,"c":0.1922,"v":4},
{"t":"2020-06-13T22:00Z","o":0.1922,"h":0.1928,"l":0.1914,"c":0.1918,"v":8},
{"t":"2020-06-14T00:00Z","o":0.1918,"h":0.1928,"l":0.1914,"c":0.1924,"v":10},
{"t":"2020-06-14T02:00Z","o":0.1924,"h":0.1928,"l":0.1912,"c":0.1916,"v":8},
{"t":"2020-06-14T04:00Z","o":0.1916,"h":0.1922,"l":0.1906,"c":0.1910,"v":8},
{"t":"2020-06-14T06:00Z","o":0.1910,"h":0.1922,"l":0.1906,"c":0.1918,"v":6},
{"t":"2020-06-14T08:00Z","o":0.1918,"h":0.1922,"l":0.1904,"c":0.1908,"v":16},
{"t":"2020-06-14T10:00Z","o":0.1908,"h":0.1914,"l":0.1900,"c":0.1904,"v":12},
{"t":"2020-06-14T12:00Z","o":0.1904,"h":0.1916,"l":0.1900,"c":0.1912,"v":20},
{"t":"2020-06-14T14:00Z","o":0.1912,"h":0.1916,"l":0.1898,"c":0.1902,"v":10},
{"t":"2020-06-14T16:00Z","o":0.1902,"h":0.1914,"l":0.1898,"c":0.1910,"v":4},
{"t":"2020-06-14T18:00Z","o":0.1910,"h":0.1918,"l":0.1904,"c":0.1914,"v":22},
{"t":"2020-06-14T20:00Z","o":0.1914,"h":0.1926,"l":0.1896,"c":0.1900,"v":14},
{"t":"2020-06-14T22:00Z","o":0.1900,"h":0.1904,"l":0.1880,"c":0.1886,"v":30},
{"t":"2020-06-15T00:00Z","o":0.1886,"h":0.1892,"l":0.1872,"c":0.1876,"v":38},
{"t":"2020-06-15T02:00Z","o":0.1876,"h":0.1880,"l":0.1850,"c":0.1856,"v":48},
{"t":"2020-06-15T04:00Z","o":0.1856,"h":0.1860,"l":0.1818,"c":0.1836,"v":57},
{"t":"2020-06-15T06:00Z","o":0.1836,"h":0.1852,"l":0.1826,"c":0.1848,"v":62},
{"t":"2020-06-15T08:00Z","o":0.1848,"h":0.1854,"l":0.1836,"c":0.1842,"v":65},
{"t":"2020-06-15T10:00Z","o":0.1842,"h":0.1856,"l":0.1836,"c":0.1850,"v":50},
{"t":"2020-06-15T12:00Z","o":0.1850,"h":0.1858,"l":0.1830,"c":0.1854,"v":57},
{"t":"2020-06-15T14:00Z","o":0.1854,"h":0.1878,"l":0.1850,"c":0.1874,"v":38},
{"t":"2020-06-15T16:00Z","o":0.1874,"h":0.1894,"l":0.1868,"c":0.1890,"v":40},
{"t":"2020-06-15T18:00Z","o":0.1890,"h":0.1912,"l":0.1884,"c":0.1908,"v":32},
{"t":"2020-06-15T20:00Z","o":0.1908,"h":0.1932,"l":0.1902,"c":0.1928,"v":30},
{"t":"2020-06-15T22:00Z","o":0.1928,"h":0.1936,"l":0.1916,"c":0.1922,"v":38},
{"t":"2020-06-16T00:00Z","o":0.1922,"h":0.1938,"l":0.1916,"c":0.1932,"v":34},
{"t":"2020-06-16T02:00Z","o":0.1932,"h":0.1944,"l":0.1924,"c":0.1938,"v":30},
{"t":"2020-06-16T04:00Z","o":0.1938,"h":0.1942,"l":0.1914,"c":0.1920,"v":24},
{"t":"2020-06-16T06:00Z","o":0.1920,"h":0.1926,"l":0.1910,"c":0.1914,"v":34},
{"t":"2020-06-16T08:00Z","o":0.1914,"h":0.1932,"l":0.1910,"c":0.1926,"v":24},
{"t":"2020-06-16T10:00Z","o":0.1926,"h":0.1930,"l":0.1912,"c":0.1918,"v":22},
{"t":"2020-06-16T12:00Z","o":0.1918,"h":0.1938,"l":0.1914,"c":0.1932,"v":30},
{"t":"2020-06-16T14:00Z","o":0.1932,"h":0.1936,"l":0.1900,"c":0.1914,"v":32},
{"t":"2020-06-16T16:00Z","o":0.1914,"h":0.1924,"l":0.1908,"c":0.1920,"v":20},
{"t":"2020-06-16T18:00Z","o":0.1920,"h":0.1926,"l":0.1908,"c":0.1914,"v":20},
{"t":"2020-06-16T20:00Z","o":0.1914,"h":0.1928,"l":0.1910,"c":0.1922,"v":14},
{"t":"2020-06-16T22:00Z","o":0.1922,"h":0.1932,"l":0.1912,"c":0.1918,"v":12},
{"t":"2020-06-17T00:00Z","o":0.1918,"h":0.1928,"l":0.1912,"c":0.1924,"v":14},
{"t":"2020-06-17T02:00Z","o":0.1924,"h":0.1928,"l":0.1910,"c":0.1916,"v":32},
{"t":"2020-06-17T04:00Z","o":0.1916,"h":0.1926,"l":0.1910,"c":0.1920,"v":20},
{"t":"2020-06-17T06:00Z","o":0.1920,"h":0.1958,"l":0.1916,"c":0.1954,"v":28},
{"t":"2020-06-17T08:00Z","o":0.1954,"h":0.1958,"l":0.1940,"c":0.1944,"v":16},
{"t":"2020-06-17T10:00Z","o":0.1944,"h":0.1956,"l":0.1932,"c":0.1949,"v":29},
{"t":"2020-06-17T12:00Z","o":0.19490,"h":0.19713,"l":0.19463,"c":0.19703,"v":29}
],
"ma":[
{"t":"2020-05-14T05:00Z","p":0.2014},{"t":"2020-05-14T17:00Z","p":0.2018},{"t":"2020-05-15T01:00Z","p":0.2020},{"t":"2020-05-15T12:00Z","p":0.2019},{"t":"2020-05-15T22:00Z","p":0.2014},{"t":"2020-05-16T09:00Z","p":0.2010},{"t":"2020-05-16T19:00Z","p":0.2007},{"t":"2020-05-17T03:00Z","p":0.2007},{"t":"2020-05-17T12:00Z","p":0.2009},{"t":"2020-05-17T22:00Z","p":0.2014},{"t":"2020-05-18T07:00Z","p":0.2018},{"t":"2020-05-18T23:00Z","p":0.2023},{"t":"2020-05-19T14:00Z","p":0.2026},{"t":"2020-05-20T04:00Z","p":0.2030},{"t":"2020-05-20T12:00Z","p":0.2032},{"t":"2020-05-21T01:00Z","p":0.2029},{"t":"2020-05-21T12:00Z","p":0.2023},{"t":"2020-05-21T20:00Z","p":0.2012},{"t":"2020-05-22T04:00Z","p":0.2000},{"t":"2020-05-22T13:00Z","p":0.1999},{"t":"2020-05-23T09:00Z","p":0.2001},{"t":"2020-05-24T08:00Z","p":0.2000},{"t":"2020-05-24T12:00Z","p":0.1999},{"t":"2020-05-24T21:00Z","p":0.1996},{"t":"2020-05-25T07:00Z","p":0.1987},{"t":"2020-05-25T15:00Z","p":0.1979},{"t":"2020-05-26T04:00Z","p":0.1976},{"t":"2020-05-26T16:00Z","p":0.1968},{"t":"2020-05-27T03:00Z","p":0.1961},{"t":"2020-05-27T09:00Z","p":0.1961},{"t":"2020-05-27T19:00Z","p":0.1964},{"t":"2020-05-28T06:00Z","p":0.1965},{"t":"2020-05-28T16:00Z","p":0.1966},{"t":"2020-05-29T02:00Z","p":0.1970},{"t":"2020-05-29T11:00Z","p":0.1973},{"t":"2020-05-30T02:00Z","p":0.1974},{"t":"2020-05-30T08:00Z","p":0.1976},{"t":"2020-05-30T18:00Z","p":0.1985},{"t":"2020-05-31T03:00Z","p":0.1994},{"t":"2020-05-31T09:00Z","p":0.2002},{"t":"2020-05-31T15:00Z","p":0.2009},{"t":"2020-05-31T21:00Z","p":0.2015},{"t":"2020-06-01T05:00Z","p":0.2018},{"t":"2020-06-01T20:00Z","p":0.2025},{"t":"2020-06-02T13:00Z","p":0.2049},{"t":"2020-06-02T23:00Z","p":0.2045},{"t":"2020-06-03T10:00Z","p":0.2042},{"t":"2020-06-04T00:00Z","p":0.2040},{"t":"2020-06-04T13:00Z","p":0.2042},{"t":"2020-06-05T05:00Z","p":0.2042},{"t":"2020-06-05T18:00Z","p":0.2041},{"t":"2020-06-06T08:00Z","p":0.2038},{"t":"2020-06-06T19:00Z","p":0.2038},{"t":"2020-06-07T07:00Z","p":0.2037},{"t":"2020-06-07T20:00Z","p":0.2032},{"t":"2020-06-08T16:00Z","p":0.2031},{"t":"2020-06-09T13:00Z","p":0.2029},{"t":"2020-06-10T10:00Z","p":0.2026},{"t":"2020-06-10T23:00Z","p":0.2024},{"t":"2020-06-11T11:00Z","p":0.2023},{"t":"2020-06-11T17:00Z","p":0.2012},{"t":"2020-06-12T02:00Z","p":0.1997},{"t":"2020-06-12T04:00Z","p":0.1993},{"t":"2020-06-12T14:00Z","p":0.1984},{"t":"2020-06-13T03:00Z","p":0.1972},{"t":"2020-06-13T11:00Z","p":0.1964},{"t":"2020-06-14T03:00Z","p":0.1954},{"t":"2020-06-14T20:00Z","p":0.1942},{"t":"2020-06-15T00:00Z","p":0.1938},{"t":"2020-06-15T09:00Z","p":0.1926},{"t":"2020-06-15T17:00Z","p":0.1917},{"t":"2020-06-16T01:00Z","p":0.1917},{"t":"2020-06-16T18:00Z","p":0.1917},{"t":"2020-06-17T04:00Z","p":0.1918},{"t":"2020-06-17T12:00Z","p":0.1922}
],
"channel":[
{"id":"upper","t":"2020-05-14T04:54Z","p":0.2123},{"id":"upper","t":"2020-06-12T07:26Z","p":0.18158},
{"id":"lower","t":"2020-05-14T04:54Z","p":0.20023},{"id":"lower","t":"2020-06-10T21:40Z","p":0.1707}
],
"vp":[
{"p":0.18290,"up":0.19,"tot":0.38,"va":false},
{"p":0.18470,"up":0.56,"tot":1.25,"va":false},
{"p":0.18651,"up":0.44,"tot":0.58,"va":false},
{"p":0.18831,"up":0.44,"tot":0.69,"va":false},
{"p":0.19011,"up":1.00,"tot":1.82,"va":false},
{"p":0.19191,"up":2.46,"tot":5.45,"va":false},
{"p":0.19372,"up":5.28,"tot":12.21,"va":false},
{"p":0.19552,"up":5.39,"tot":10.46,"va":false},
{"p":0.19732,"up":7.89,"tot":15.03,"va":false},
{"p":0.19913,"up":7.08,"tot":13.98,"va":true},
{"p":0.20093,"up":10.96,"tot":22.35,"va":true},
{"p":0.20273,"up":12.21,"tot":26.13,"va":true},
{"p":0.20454,"up":12.59,"tot":25.38,"va":true},
{"p":0.20634,"up":2.00,"tot":3.88,"va":false},
{"p":0.20814,"up":0.44,"tot":0.69,"va":false},
{"p":0.20994,"up":0.88,"tot":1.63,"va":false},
{"p":0.21175,"up":1.46,"tot":2.34,"va":false},
{"p":0.21355,"up":0.88,"tot":1.44,"va":false}
],
"labels":[
{"p":0.21338,"level":"resistance"},{"p":0.20271,"level":"pivot"},{"p":0.19703,"level":"last"},{"p":0.1922,"level":"sma"},{"p":0.16326,"level":"volume"}
]
},
"resolve":{"scale":{"x":"independent","y":"independent"}},
"layer":[
{"data":{"name":"candles"},
 "mark":{"type":"bar","width":1.8,"opacity":0.5,"clip":true},
 "encoding":{
  "x":{"field":"t","type":"temporal","scale":{"type":"utc","domain":[{"year":2020,"month":5,"date":14,"hours":4,"minutes":54,"utc":true},{"year":2020,"month":6,"date":24,"hours":17,"minutes":27,"utc":true}]},
   "axis":{"orient":"bottom","offset":38,"labels":false,"ticks":false,"grid":false,"domain":true,"domainColor":"#9598a1","domainWidth":1.5,"title":"ngView","titleAnchor":"start","titleAlign":"left","titleX":0,"titleY":26,"titleBaseline":"middle","titleFont":"Open Sans, DejaVu Sans","titleFontSize":15,"titleFontWeight":"normal","titleColor":"#131722"}},
  "y":{"field":"v","type":"quantitative","scale":{"domain":[0,755],"nice":false,"zero":true},"axis":null},
  "color":{"condition":{"test":"datum.c >= datum.o","value":"#26a69a"},"value":"#ef5350"}
 }},
{"data":{"name":"vp"},
 "mark":{"type":"bar","height":19,"opacity":0.9,"clip":true},
 "encoding":{
  "y":{"field":"p","type":"quantitative","scale":{"domain":[0.1606,0.2282],"nice":false,"zero":false},"axis":null},
  "x":{"field":"tot","type":"quantitative","scale":{"domain":[0,100],"reverse":true,"nice":false,"zero":false},"axis":null},
  "x2":{"field":"up"},
  "color":{"condition":{"test":"datum.va","value":"#f9d36b"},"value":"#fdefcb"}
 }},
{"data":{"name":"vp"},
 "mark":{"type":"bar","height":19,"opacity":0.9,"clip":true},
 "encoding":{
  "y":{"field":"p","type":"quantitative","scale":{"domain":[0.1606,0.2282],"nice":false,"zero":false},"axis":null},
  "x":{"field":"up","type":"quantitative","scale":{"domain":[0,100],"reverse":true,"nice":false,"zero":false},"axis":null},
  "x2":{"datum":0},
  "color":{"condition":{"test":"datum.va","value":"#4ea6e8"},"value":"#c6e2f7"}
 }},
{"data":{"name":"candles"},
 "mark":{"type":"rule","strokeWidth":1,"clip":true},
 "encoding":{
  "x":{"field":"t","type":"temporal","scale":{"type":"utc","domain":[{"year":2020,"month":5,"date":14,"hours":4,"minutes":54,"utc":true},{"year":2020,"month":6,"date":24,"hours":17,"minutes":27,"utc":true}]},
   "axis":{"orient":"bottom","values":[{"year":2020,"month":5,"date":18,"utc":true},{"year":2020,"month":5,"date":21,"utc":true},{"year":2020,"month":5,"date":25,"utc":true},{"year":2020,"month":5,"date":28,"utc":true},{"year":2020,"month":6,"date":1,"utc":true},{"year":2020,"month":6,"date":4,"utc":true},{"year":2020,"month":6,"date":8,"utc":true},{"year":2020,"month":6,"date":11,"utc":true},{"year":2020,"month":6,"date":15,"utc":true},{"year":2020,"month":6,"date":18,"utc":true},{"year":2020,"month":6,"date":22,"utc":true}],
    "labelExpr":"utcdate(datum.value) == 1 ? 'Jun' : '' + utcdate(datum.value)",
    "grid":true,"gridColor":"#e6ecf1","gridWidth":1,"domain":true,"domainColor":"#9598a1","domainWidth":1.5,"ticks":true,"tickColor":"#9598a1","tickSize":5,
    "labelFont":"Open Sans, DejaVu Sans","labelFontSize":13,"labelColor":"#50535e","labelPadding":10,"labelFlush":false,"labelOverlap":false,"title":null}},
  "y":{"field":"l","type":"quantitative","scale":{"domain":[0.1606,0.2282],"nice":false,"zero":false},
   "axis":{"orient":"right","values":[0.165,0.17,0.175,0.18,0.185,0.19,0.195,0.2,0.205,0.21,0.215,0.22,0.225],"grid":true,"gridColor":"#e6ecf1","gridWidth":1,"labels":false,"ticks":true,"tickSize":5,"tickColor":"#9598a1","domain":true,"domainColor":"#9598a1","domainWidth":1.5,"title":null}},
  "y2":{"field":"h"},
  "color":{"condition":{"test":"datum.c >= datum.o","value":"#26a69a"},"value":"#ef5350"}
 }},
{"data":{"name":"candles"},
 "mark":{"type":"bar","width":2,"clip":true},
 "encoding":{
  "x":{"field":"t","type":"temporal","scale":{"type":"utc","domain":[{"year":2020,"month":5,"date":14,"hours":4,"minutes":54,"utc":true},{"year":2020,"month":6,"date":24,"hours":17,"minutes":27,"utc":true}]},"axis":null},
  "y":{"field":"o","type":"quantitative","scale":{"domain":[0.1606,0.2282],"nice":false,"zero":false},"axis":null},
  "y2":{"field":"c"},
  "color":{"condition":{"test":"datum.c >= datum.o","value":"#26a69a"},"value":"#ef5350"}
 }},
{"data":{"name":"ma"},
 "mark":{"type":"line","color":"#2196f3","strokeWidth":2.5,"interpolate":"monotone","clip":true},
 "encoding":{
  "x":{"field":"t","type":"temporal","scale":{"type":"utc","domain":[{"year":2020,"month":5,"date":14,"hours":4,"minutes":54,"utc":true},{"year":2020,"month":6,"date":24,"hours":17,"minutes":27,"utc":true}]},
   "axis":{"orient":"top","labels":false,"ticks":false,"grid":false,"domain":true,"domainColor":"#9598a1","domainWidth":1.5,"title":null}},
  "y":{"field":"p","type":"quantitative","scale":{"domain":[0.1606,0.2282],"nice":false,"zero":false},"axis":null}
 }},
{"data":{"name":"channel"},
 "mark":{"type":"line","color":"#1e4a53","strokeWidth":2.5,"clip":true},
 "encoding":{
  "x":{"field":"t","type":"temporal","scale":{"type":"utc","domain":[{"year":2020,"month":5,"date":14,"hours":4,"minutes":54,"utc":true},{"year":2020,"month":6,"date":24,"hours":17,"minutes":27,"utc":true}]},"axis":null},
  "y":{"field":"p","type":"quantitative","scale":{"domain":[0.1606,0.2282],"nice":false,"zero":false},"axis":null},
  "detail":{"field":"id"}
 }},
{"data":{"values":[{"p":0.21338}]},
 "mark":{"type":"rule","color":"#8b6d20","strokeWidth":3},
 "encoding":{"y":{"field":"p","type":"quantitative","scale":{"domain":[0.1606,0.2282],"nice":false,"zero":false},"axis":null}}},
{"data":{"values":[{"p":0.20271}]},
 "mark":{"type":"rule","color":"#ff0000","strokeWidth":3},
 "encoding":{"y":{"field":"p","type":"quantitative","scale":{"domain":[0.1606,0.2282],"nice":false,"zero":false},"axis":null}}},
{"data":{"values":[{"p":0.19703}]},
 "mark":{"type":"rule","color":"#26a69a","strokeWidth":1,"strokeDash":[2,2]},
 "encoding":{"y":{"field":"p","type":"quantitative","scale":{"domain":[0.1606,0.2282],"nice":false,"zero":false},"axis":null}}},
{"data":{"name":"labels"},
 "mark":{"type":"bar","height":22,"clip":false},
 "encoding":{
  "y":{"field":"p","type":"quantitative","scale":{"domain":[0.1606,0.2282],"nice":false,"zero":false},"axis":null},
  "x":{"datum":{"year":2020,"month":6,"date":24,"hours":18,"minutes":0,"utc":true},"type":"temporal","scale":{"type":"utc","domain":[{"year":2020,"month":5,"date":14,"hours":4,"minutes":54,"utc":true},{"year":2020,"month":6,"date":24,"hours":17,"minutes":27,"utc":true}]},"axis":null},
  "x2":{"datum":{"year":2020,"month":6,"date":27,"utc":true}},
  "color":{"field":"level","type":"nominal","scale":{"domain":["resistance","pivot","last","sma","volume"],"range":["#8b6d20","#ff0000","#26a69a","#2196f3","#26a69a"]},"legend":null}
 }}
]
}
